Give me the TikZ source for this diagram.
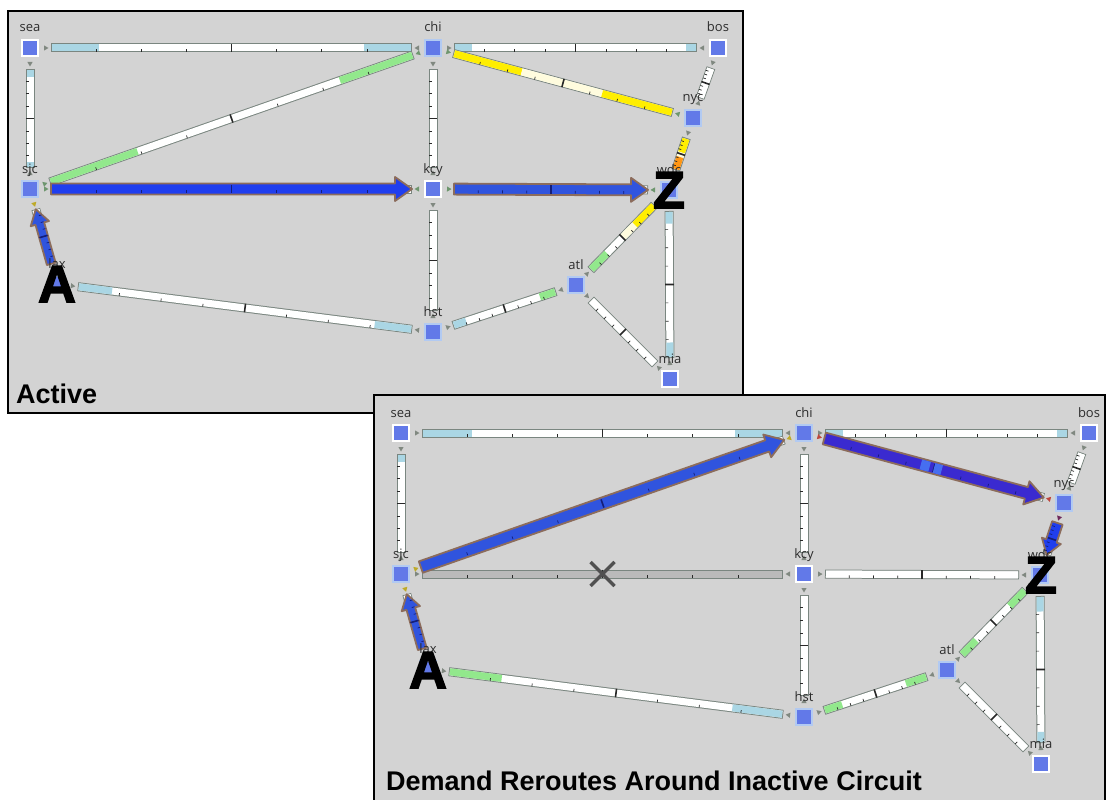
\documentclass[tikz,border=0pt]{standalone}
\usepackage{fontspec}
\setmainfont{Open Sans}
\newfontfamily\titlefont{Liberation Sans}
\newfontfamily\bigfont{Liberation Sans Bold}[FakeBold=3]
\usetikzlibrary{calc}

\definecolor{panelbg}{RGB}{211,211,211}
\definecolor{nodeb}{RGB}{98,121,232}
\definecolor{halo}{RGB}{178,202,242}
\definecolor{barc}{RGB}{122,134,128}
\definecolor{lb}{RGB}{170,214,228}
\definecolor{lgreen}{RGB}{146,232,140}
\definecolor{yel}{RGB}{255,238,0}
\definecolor{cream}{RGB}{255,252,222}
\definecolor{orng}{RGB}{255,150,20}
\definecolor{inact}{RGB}{186,186,186}
\definecolor{mk}{RGB}{128,136,128}
\definecolor{mkg}{RGB}{110,150,110}
\definecolor{mky}{RGB}{190,170,40}
\definecolor{mkr}{RGB}{190,70,60}
\definecolor{mkp}{RGB}{110,40,90}
\definecolor{tickc}{RGB}{40,40,40}
\definecolor{arrtick}{RGB}{20,30,120}
\definecolor{arredge}{RGB}{140,108,92}
\definecolor{dblueA}{RGB}{32,62,238}
\definecolor{dblueB}{RGB}{48,84,222}
\definecolor{dindigo}{RGB}{58,42,208}
\definecolor{patchc}{RGB}{70,110,240}
\definecolor{lblc}{RGB}{45,45,45}
\definecolor{xmc}{RGB}{80,80,80}

% ticks along bar P--Q
\newcommand\ticks[1][tickc]{%
  \foreach \t in {0.125,0.25,0.375,0.625,0.75,0.875}{%
    \coordinate (M) at ($(P)!\t!(Q)$);
    \draw[line width=.7pt, color=#1] ($(M)!1.2pt!-90:(Q)$) -- ($(M)!4pt!-90:(Q)$);
  }
  \coordinate (M) at ($(P)!0.5!(Q)$);
  \draw[line width=1.6pt, color=#1] ($(M)!4.3pt!90:(Q)$) -- ($(M)!4.3pt!-90:(Q)$);
}
% small triangle marker near node #2 pointing towards #3
\NewDocumentCommand\mkr{O{mk} m m}{%
  \coordinate (T) at ($(#2)!18.5pt!(#3)$);
  \coordinate (B) at ($(#2)!14pt!(#3)$);
  \fill[#1] (T) -- ($(B)!2.6pt!90:(T)$) -- ($(B)!2.6pt!-90:(T)$) -- cycle;
}
% capacity bar between two nodes
\NewDocumentCommand\lnk{O{mk} O{mk} m m m}{%
  \coordinate (P) at ($(#3)!21pt!(#4)$);
  \coordinate (Q) at ($(#4)!21pt!(#3)$);
  \draw[line width=9pt, barc] (P) -- (Q);
  \coordinate (Pi) at ($(P)!1pt!(Q)$);
  \coordinate (Qi) at ($(Q)!1pt!(P)$);
  \draw[line width=7pt, white] (Pi) -- (Qi);
  \foreach \fc/\fa/\fb in {#5}{\draw[line width=7pt, color=\fc] ($(Pi)!\fa!(Qi)$) -- ($(Pi)!\fb!(Qi)$);}
  \ticks
  \mkr[#1]{#3}{#4}\mkr[#2]{#4}{#3}
}
% demand arrow
\newcommand\demand[6]{%
  \coordinate (AP) at ($(#2)!21pt!(#3)$);
  \coordinate (AQ) at ($(#3)!21pt!(#2)$);
  \coordinate (AH) at ($(AQ)!#6pt!(AP)$);
  \filldraw[fill=#1, draw=arredge, line width=1.8pt, line join=round]
    ($(AP)!#4pt!90:(AQ)$) -- ($(AH)!#4pt!-90:(AP)$) -- ($(AH)!#5pt!-90:(AP)$) -- (AQ)
    -- ($(AH)!#5pt!90:(AP)$) -- ($(AH)!#4pt!90:(AP)$) -- ($(AP)!#4pt!-90:(AQ)$) -- cycle;
  \coordinate (P) at (AP); \coordinate (Q) at (AQ);
  \ticks[arrtick]
}
\newcommand\city[3]{\node[city, draw=#3] (#1) at (#2) {};}

\begin{document}
\begin{tikzpicture}[x=1pt,y=-1pt,
  city/.style={rectangle, minimum size=16pt, inner sep=0pt, fill=nodeb, line width=2pt},
  lbl/.style={inner sep=0pt, font=\fontsize{13}{13}\selectfont, text=lblc},
  ttl/.style={inner sep=0pt, font=\titlefont\bfseries\fontsize{27}{27}\selectfont, text=black},
  big/.style={inner sep=0pt, font=\bigfont\fontsize{52}{52}\selectfont, text=black},
  panel/.style={line width=1.5pt, draw=black},
  xline/.style={line width=3.5pt, xmc}]
\useasboundingbox (0,0) rectangle (1106,800);
\fill[white] (0,0) rectangle (1106,800);

% ---------------- Panel 1 : Active ----------------
\filldraw[panel, fill=panelbg] (8,11) rectangle (743,413);
\city{sea}{30,48}{white}
\city{chi}{433,48}{halo}
\city{bos}{718,48}{white}
\city{nyc}{693,118}{halo}
\city{sjc}{30,189}{halo}
\city{kcy}{433,189}{white}
\city{wdc}{669,190}{halo}
\city{lax}{57,284}{halo}
\city{hst}{433,332}{halo}
\city{atl}{576,285}{halo}
\city{mia}{670,379}{white}

\lnk{sea}{chi}{lb/0/0.13, lb/0.87/1}
\lnk{chi}{bos}{lb/0/0.07, lb/0.96/1}
\lnk{sea}{sjc}{lb/0/0.07, lb/0.95/1}
\lnk{chi}{kcy}{white/0/1}
\lnk[mkg][mkg]{sjc}{chi}{lgreen/0/0.24, lgreen/0.8/1}
\lnk[mkg][mkg]{chi}{nyc}{yel/0/0.31, cream/0.31/0.68, yel/0.68/1}
\lnk{bos}{nyc}{white/0/1}
\lnk{nyc}{wdc}{yel/0/0.45, cream/0.45/0.6, orng/0.6/1}
\lnk[mkg][mkg]{sjc}{kcy}{white/0/1}
\lnk[mkg][mkg]{kcy}{wdc}{white/0/1}
\lnk{kcy}{hst}{white/0/1}
\lnk[mk][mky]{lax}{sjc}{white/0/1}
\lnk{lax}{hst}{lb/0/0.1, lb/0.89/1}
\lnk{hst}{atl}{lb/0/0.12, lgreen/0.85/1}
\lnk{atl}{wdc}{lgreen/0/0.25, cream/0.5/0.7, yel/0.7/1}
\lnk{atl}{mia}{white/0/1}
\lnk{wdc}{mia}{lb/0/0.08, lb/0.9/1}

\demand{dblueA}{sjc}{kcy}{5.5}{12}{17}
\demand{dblueB}{kcy}{wdc}{5.5}{12}{17}
\demand{dblueB}{lax}{sjc}{4.5}{9.5}{15}

\foreach \n in {sea,chi,bos,nyc,sjc,kcy,wdc,lax,hst,atl,mia}
  \node[lbl, anchor=base] (\n-l) at ($(\n)+(0,-16)$) {\n};

\node[ttl, anchor=base west] (act) at (16,403) {Active};
\node[big, anchor=base] (A1) at (57,302) {A};
\node[big, anchor=base] (Z1) at (669,208) {Z};

% ---------------- Panel 2 : Reroute ----------------
\fill[panelbg] (374,395) rectangle (1106,800);
\draw[panel] (374,802) -- (374,395) -- (1105,395) -- (1105,802);
\begin{scope}[shift={(371,385)}]
\city{bsea}{30,48}{white}
\city{bchi}{433,48}{halo}
\city{bbos}{718,48}{white}
\city{bnyc}{693,118}{halo}
\city{bsjc}{30,189}{halo}
\city{bkcy}{433,189}{white}
\city{bwdc}{669,190}{halo}
\city{blax}{57,284}{halo}
\city{bhst}{433,332}{halo}
\city{batl}{576,285}{halo}
\city{bmia}{670,379}{white}
\end{scope}

\lnk{bsea}{bchi}{lb/0/0.136, lb/0.87/1}
\lnk{bchi}{bbos}{lb/0/0.07, lb/0.96/1}
\lnk{bsea}{bsjc}{lb/0/0.07}
\lnk{bchi}{bkcy}{white/0/1}
\lnk[mky][mky]{bsjc}{bchi}{white/0/1}
\lnk[mkr][mkr]{bchi}{bnyc}{white/0/1}
\lnk{bbos}{bnyc}{white/0/1}
\lnk[mkp][mk]{bnyc}{bwdc}{white/0/1}
\lnk{bsjc}{bkcy}{inact/0/1}
\lnk{bkcy}{bwdc}{white/0/1}
\lnk{bkcy}{bhst}{white/0/1}
\lnk[mk][mky]{blax}{bsjc}{white/0/1}
\lnk{blax}{bhst}{lgreen/0/0.156, lb/0.85/1}
\lnk{bhst}{batl}{lgreen/0/0.17, lgreen/0.8/1}
\lnk{batl}{bwdc}{lgreen/0/0.22, lgreen/0.76/1}
\lnk{batl}{bmia}{white/0/1}
\lnk{bwdc}{bmia}{lb/0/0.1, lb/0.93/1}

\coordinate (xc) at ($(bsjc)!0.5!(bkcy)$);
\draw[xline] ($(xc)+(-12,-12)$) -- ($(xc)+(12,12)$);
\draw[xline] ($(xc)+(-12,12)$) -- ($(xc)+(12,-12)$);

\demand{dblueB}{bsjc}{bchi}{6}{12}{18}
\demand{dindigo}{bchi}{bnyc}{6}{12}{18}
\draw[line width=10pt, patchc] ($(P)!0.44!(Q)$) -- ($(P)!0.48!(Q)$);
\draw[line width=10pt, patchc] ($(P)!0.5!(Q)$) -- ($(P)!0.535!(Q)$);
\demand{dblueA}{bnyc}{bwdc}{5.5}{10}{15}
\demand{dblueB}{blax}{bsjc}{4.5}{9.5}{15}

\foreach \n in {sea,chi,bos,nyc,sjc,kcy,wdc,lax,hst,atl,mia}
  \node[lbl, anchor=base] (b\n-l) at ($(b\n)+(0,-16)$) {\n};

\node[ttl, anchor=base west] (dem) at (386,790) {Demand Reroutes Around Inactive Circuit};
\node[big, anchor=base] (A2) at (428,688) {A};
\node[big, anchor=base] (Z2) at (1041,593) {Z};
\end{tikzpicture}
\end{document}
